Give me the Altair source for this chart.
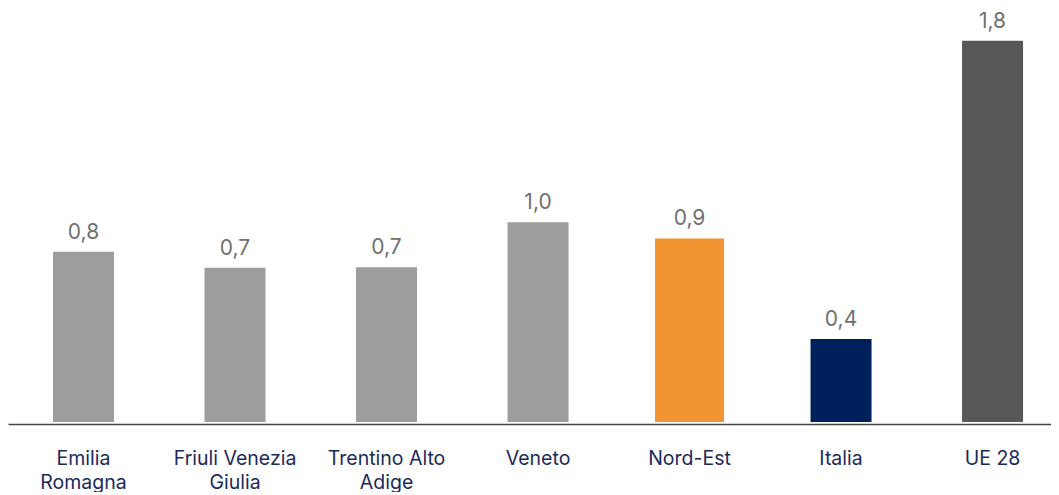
import altair as alt
import pandas as pd

categories = ["Emilia|Romagna", "Friuli Venezia|Giulia", "Trentino Alto|Adige",
              "Veneto", "Nord-Est", "Italia", "UE 28"]
values = [0.823, 0.745, 0.748, 0.965, 0.887, 0.401, 1.842]
colors = ["#9d9d9c", "#9d9d9c", "#9d9d9c", "#9d9d9c", "#f39433", "#00205b", "#575756"]

df = pd.DataFrame({"cat": categories, "v": values, "col": colors})

FONT = "Inter"

x = alt.X("cat:N", sort=categories, title=None,
          scale=alt.Scale(paddingInner=0.597, paddingOuter=0.2406, align=0.617),
          axis=alt.Axis(labelAngle=0, labelExpr="split(datum.label, '|')",
                        labelFont=FONT, labelFontSize=19.5, labelColor="#1b2a5c",
                        labelPadding=25, labelLineHeight=24, labelBaseline="top",
                        ticks=False, domainColor="#444444", domainWidth=1.5,
                        offset=2, grid=False, labelFlush=False, labelOverlap=False))
y = alt.Y("v:Q", title=None, scale=alt.Scale(domain=[0, 2]), axis=None)

base = alt.Chart(df).encode(x=x, y=y)

bars = base.mark_bar().encode(
    color=alt.Color("col:N", scale=None),
    size=alt.condition("datum.cat == 'Nord-Est'", alt.value(69), alt.value(61)),
)
labels = base.transform_calculate(
    lab="replace(format(datum.v, '.1f'), '.', ',')"
).mark_text(font=FONT, fontSize=21, color="#707070", baseline="alphabetic",
            align="center", dy=-13).encode(text="lab:N")

chart = (bars + labels).properties(width=1043, height=414, padding=0).configure_view(stroke=None)

chart.save("out.html", embed_options={"renderer": "svg", "actions": False})
